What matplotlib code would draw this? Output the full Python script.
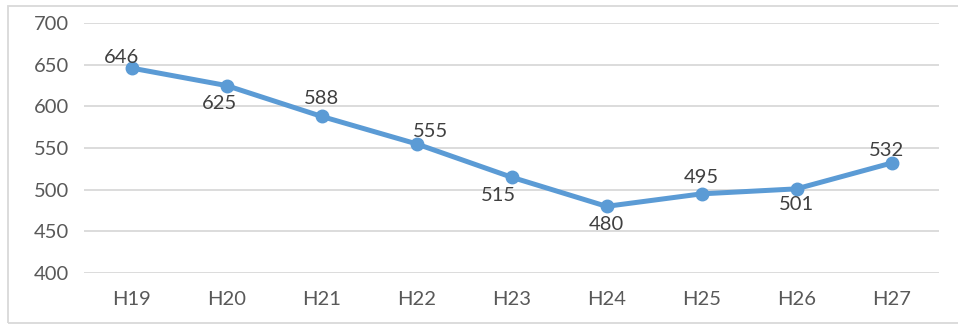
import matplotlib.pyplot as plt
from matplotlib.patches import Rectangle

plt.rcParams['font.family'] = ['Lato', 'DejaVu Sans']

years = ['H19', 'H20', 'H21', 'H22', 'H23', 'H24', 'H25', 'H26', 'H27']
values = [646, 625, 588, 555, 515, 480, 495, 501, 532]

# label nudges in pixels (dx, dy), roughly where the spreadsheet put them
label_offsets = [(-10, 11), (-7, -18), (0, 18), (14, 12), (-13, -18),
                 (0, -18), (0, 16), (0, -16), (-5, 13)]

blue = '#5B9BD5'
grey_text = '#595959'

fig = plt.figure(figsize=(9.58, 3.25), dpi=100)
ax = fig.add_axes([0.0877, 0.16, 0.8925, 0.769])

x = range(len(years))
ax.plot(x, values, '-o', color=blue, lw=3.6, ms=9, solid_capstyle='round', zorder=3)

for i, v in enumerate(values):
    dx, dy = label_offsets[i]
    ax.annotate(str(v), (i, v), xytext=(dx, dy), textcoords='offset pixels',
                ha='center', va='center', fontsize=14.5, color='#404040', zorder=4)

ax.set_xlim(-0.5, len(years) - 0.5)
ax.set_ylim(400, 700)
ax.set_yticks(range(400, 701, 50))
ax.set_xticks(list(x))
ax.set_xticklabels(years)
ax.yaxis.grid(True, color='#D9D9D9', lw=1.3)
ax.set_axisbelow(True)
for s in ax.spines.values():
    s.set_visible(False)
ax.tick_params(length=0, labelsize=14.5, colors=grey_text)
ax.tick_params(axis='x', pad=13)
ax.tick_params(axis='y', pad=11)

# chart border, right edge runs off the figure
fig.patches.append(Rectangle((8 / 958, 2 / 325), 960 / 958, 317 / 325,
                             transform=fig.transFigure, fill=False,
                             edgecolor='#D9D9D9', lw=1.3))

fig.savefig('out.png', dpi=100)
